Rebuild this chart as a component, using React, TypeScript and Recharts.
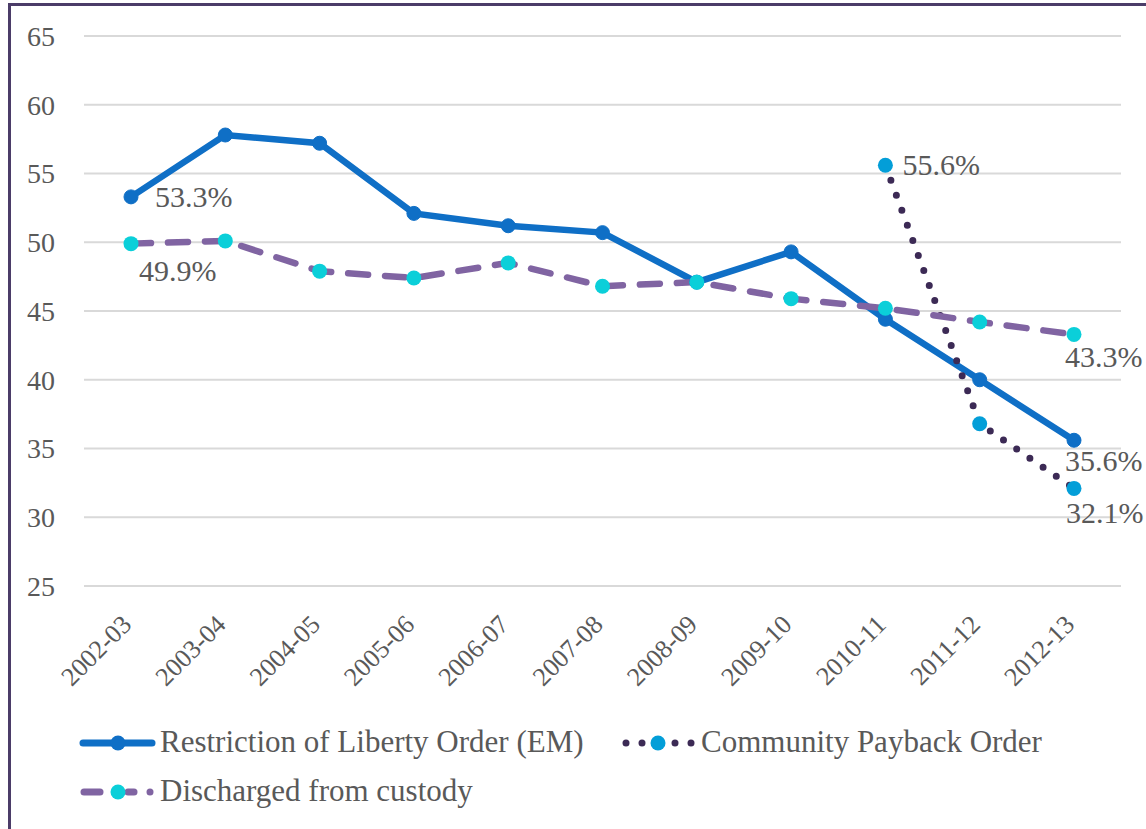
import { LineChart, Line, XAxis, YAxis, CartesianGrid } from 'recharts';

const categories = ['2002-03', '2003-04', '2004-05', '2005-06', '2006-07', '2007-08', '2008-09', '2009-10', '2010-11', '2011-12', '2012-13'];
const restrictionOfLiberty = [53.3, 57.8, 57.2, 52.1, 51.2, 50.7, 47.1, 49.3, 44.4, 40.0, 35.6];
const communityPayback = [null, null, null, null, null, null, null, null, 55.6, 36.8, 32.1];
const discharged = [49.9, 50.1, 47.9, 47.4, 48.5, 46.8, 47.1, 45.9, 45.2, 44.2, 43.3];
const yTicks = [25, 30, 35, 40, 45, 50, 55, 60, 65];

const data = categories.map((name, i) => ({
  name,
  rol: restrictionOfLiberty[i],
  cpo: communityPayback[i],
  dis: discharged[i],
}));

const FONT = 'Liberation Serif, DejaVu Serif';
const TEXT = '#595959';
const BLUE = '#0f6fc6';
const CPO_LINE = '#3c2a55';
const CPO_DOT = '#039ed8';
const PURPLE = '#8064a2';
const CYAN = '#0bcfd9';

// which points get a value label, and where it sits relative to the point
type Offset = { dx: number; dy: number };
const makeLabel = (offsets: Record<number, Offset>) => (props: any) => {
  const { x, y, index, value } = props;
  const o = offsets[index];
  if (!o || value == null) return null;
  return (
    <text x={x + o.dx} y={y + o.dy} fill={TEXT} fontSize={30} style={{ fontFamily: FONT }} textAnchor="start">
      {value.toFixed(1)}%
    </text>
  );
};

const XTick = (props: any) => {
  const { x, y, payload } = props;
  const tx = x + 2;
  const ty = y + 38;
  return (
    <text
      x={tx}
      y={ty}
      transform={`rotate(-45, ${tx}, ${ty})`}
      textAnchor="end"
      fill={TEXT}
      fontSize={26}
      style={{ fontFamily: FONT }}
    >
      {payload.value}
    </text>
  );
};

export default function App() {
  return (
    <div style={{ position: 'absolute', left: 0, top: 0, width: 1146, height: 829, overflow: 'hidden', background: '#fff', fontFamily: FONT }}>
      <div
        style={{
          position: 'absolute',
          left: 8,
          top: 3,
          width: 1200,
          height: 900,
          borderLeft: '3px solid #4b3c68',
          borderTop: '3px solid #4b3c68',
        }}
      />
      <div style={{ position: 'absolute', left: 0, top: 0 }}>
        <LineChart width={1146} height={829} data={data} margin={{ top: 36, right: 25, left: 0, bottom: 143 }} style={{ fontFamily: FONT }}>
          <CartesianGrid vertical={false} stroke="#d9d9d9" strokeWidth={2} />
          <XAxis
            dataKey="name"
            axisLine={false}
            tickLine={false}
            tickSize={0}
            interval={0}
            height={100}
            padding={{ left: 47, right: 47 }}
            tick={<XTick />}
          />
          <YAxis
            domain={[25, 65]}
            ticks={yTicks}
            axisLine={false}
            tickLine={false}
            tickSize={0}
            tickMargin={29}
            width={84}
            tick={{ fill: TEXT, fontSize: 28, style: { fontFamily: FONT } }}
          />
          <Line
            dataKey="rol"
            stroke={BLUE}
            strokeWidth={6.5}
            dot={{ r: 7, fill: BLUE, stroke: BLUE, strokeWidth: 1 }}
            isAnimationActive={false}
            label={makeLabel({ 0: { dx: 24, dy: 10 }, 10: { dx: -9, dy: 31 } })}
          />
          <Line
            dataKey="cpo"
            stroke={CPO_LINE}
            strokeWidth={7}
            strokeDasharray="0 16"
            strokeLinecap="round"
            connectNulls={false}
            dot={{ r: 7.5, fill: CPO_DOT, stroke: 'none' }}
            isAnimationActive={false}
            label={makeLabel({ 8: { dx: 17, dy: 10 }, 10: { dx: -8, dy: 35 } })}
          />
          <Line
            dataKey="dis"
            stroke={PURPLE}
            strokeWidth={6.5}
            strokeDasharray="20 17"
            strokeLinecap="round"
            dot={{ r: 7.5, fill: CYAN, stroke: 'none' }}
            isAnimationActive={false}
            label={makeLabel({ 0: { dx: 8, dy: 37 }, 10: { dx: -9, dy: 33 } })}
          />
        </LineChart>
      </div>
      <svg style={{ position: 'absolute', left: 0, top: 700, fontFamily: FONT }} width={1146} height={129}>
        <g fontSize={31} fill={TEXT}>
          {/* Restriction of Liberty Order */}
          <line x1={83} y1={43} x2={152} y2={43} stroke={BLUE} strokeWidth={7} strokeLinecap="round" />
          <circle cx={118} cy={43} r={7.5} fill={BLUE} />
          <text x={160} y={52}>Restriction of Liberty Order (EM)</text>
          {/* Community Payback Order */}
          {[626, 642, 675, 691].map((cx) => (
            <circle key={cx} cx={cx} cy={43} r={3.5} fill={CPO_LINE} />
          ))}
          <circle cx={658} cy={43} r={7.5} fill={CPO_DOT} />
          <text x={701} y={52}>Community Payback Order</text>
          {/* Discharged from custody */}
          <line x1={84} y1={92} x2={100} y2={92} stroke={PURPLE} strokeWidth={7} strokeLinecap="round" />
          <line x1={128} y1={92} x2={134} y2={92} stroke={PURPLE} strokeWidth={7} strokeLinecap="round" />
          <circle cx={150} cy={92} r={3.5} fill={PURPLE} />
          <circle cx={118} cy={92} r={7.5} fill={CYAN} />
          <text x={160} y={101}>Discharged from custody</text>
        </g>
      </svg>
    </div>
  );
}
